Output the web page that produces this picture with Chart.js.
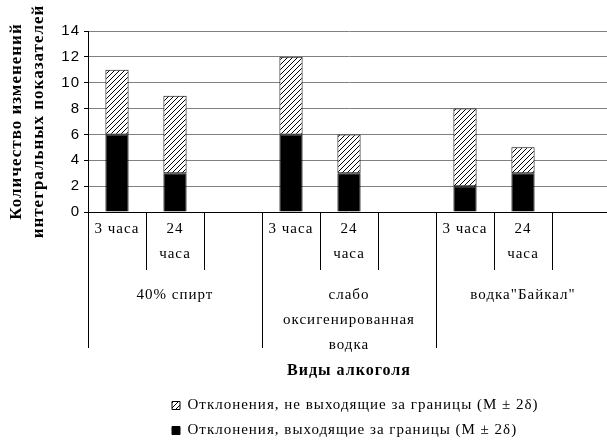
<!DOCTYPE html>
<html>
<head>
<meta charset="utf-8">
<script src="https://cdn.jsdelivr.net/npm/chart.js@4.4.0/dist/chart.umd.min.js"></script>
<style>
  html, body { margin: 0; padding: 0; background: #fff; overflow: hidden; }
  #wrap { width: 610px; height: 443px; }
</style>
</head>
<body>
<div id="wrap"><canvas id="chart" width="610" height="443"></canvas></div>
<script>
// Data
const timeLabels = ["3 часа", ["24", "часа"], "", "3 часа", ["24", "часа"], "", "3 часа", ["24", "часа"], ""];
const groupLabels = ["40% спирт", ["слабо", "оксигенированная", "водка"], "водка\"Байкал\""];
const outsideValues = [6, 3, null, 6, 3, null, 2, 3, null];
const insideValues = [5, 6, null, 6, 3, null, 6, 2, null];
const yTicks = [0, 2, 4, 6, 8, 10, 12, 14];

const serif = "'Liberation Serif', 'Times New Roman', serif";
const sans = "'Liberation Sans', Arial, sans-serif";

// diagonal hatch for the "inside limits" series
function makeHatch() {
  const c = document.createElement("canvas");
  c.width = 5;
  c.height = 5;
  const g = c.getContext("2d");
  g.fillStyle = "#fff";
  g.fillRect(0, 0, 5, 5);
  g.strokeStyle = "#000";
  g.lineWidth = 1;
  g.beginPath();
  g.moveTo(0, 5); g.lineTo(5, 0);
  g.moveTo(-1, 1); g.lineTo(1, -1);
  g.moveTo(4, 6); g.lineTo(6, 4);
  g.stroke();
  return g.createPattern(c, "repeat");
}

// the source text is set wide, canvas letterSpacing gets close to it
const spacing = {
  id: "spacing",
  beforeUpdate(chart) { chart.ctx.letterSpacing = "1px"; },
  beforeDraw(chart) { chart.ctx.letterSpacing = "1px"; },
  // legend rows start at the same left edge as in the source
  afterLayout(chart) {
    chart.legend.left = 162;
    chart.legend.top += 5;
  }
};

const ctx = document.getElementById("chart").getContext("2d");
new Chart(ctx, {
  type: "bar",
  data: {
    labels: timeLabels,
    datasets: [
      {
        label: "Отклонения, выходящие за границы (M ± 2δ)",
        data: outsideValues,
        backgroundColor: "#000",
        borderColor: "#000",
        borderWidth: 1,
        barPercentage: 0.4,
        categoryPercentage: 1
      },
      {
        label: "Отклонения, не выходящие за границы (M ± 2δ)",
        data: insideValues,
        backgroundColor: makeHatch(),
        borderColor: "#000",
        borderWidth: 1,
        borderSkipped: false,
        barPercentage: 0.4,
        categoryPercentage: 1
      }
    ]
  },
  options: {
    responsive: false,
    animation: false,
    layout: { padding: { top: 31, right: 0, bottom: 0, left: 0 } },
    plugins: {
      tooltip: { enabled: false },
      legend: {
        position: "bottom",
        align: "start",
        reverse: true,
        labels: {
          boxWidth: 8,
          boxHeight: 8,
          padding: 10,
          color: "#000",
          font: { family: serif, size: 15 }
        }
      }
    },
    scales: {
      x: {
        stacked: true,
        offset: true,
        afterFit: (s) => { s.height = 58; },
        grid: { offset: true, drawOnChartArea: false, tickLength: 58, color: "#000", tickColor: "#000" },
        border: { color: "#000" },
        ticks: {
          autoSkip: false,
          maxRotation: 0,
          padding: -53,
          color: "#000",
          font: { family: serif, size: 15, lineHeight: 25 / 15 }
        }
      },
      x2: {
        type: "category",
        labels: groupLabels,
        position: "bottom",
        offset: true,
        afterFit: (s) => { s.height = 113; },
        grid: { offset: true, drawOnChartArea: false, tickLength: 78, color: "#000", tickColor: "#000" },
        border: { display: false },
        ticks: {
          autoSkip: false,
          maxRotation: 0,
          padding: -65.5,
          color: "#000",
          font: { family: serif, size: 15, lineHeight: 25 / 15 }
        },
        title: {
          display: true,
          text: "Виды алкоголя",
          color: "#000",
          font: { family: serif, size: 16, weight: "bold", lineHeight: 18 / 16 },
          padding: { top: 10, bottom: 3 }
        }
      },
      y: {
        stacked: true,
        min: 0,
        max: 14,
        afterBuildTicks: (s) => { s.ticks = yTicks.map((v) => ({ value: v })); },
        afterFit: (s) => { s.width = 88; },
        grid: { color: "#808080", tickLength: 4, tickColor: "#000" },
        border: { color: "#000" },
        ticks: { padding: 4, color: "#000", font: { family: sans, size: 15 } },
        title: {
          display: true,
          text: ["Количество изменений", "интегральных показателей"],
          color: "#000",
          font: { family: serif, size: 17, weight: "bold", lineHeight: 22 / 17 },
          padding: { top: 6, bottom: 0 }
        }
      }
    }
  },
  plugins: [spacing]
});
</script>
</body>
</html>
